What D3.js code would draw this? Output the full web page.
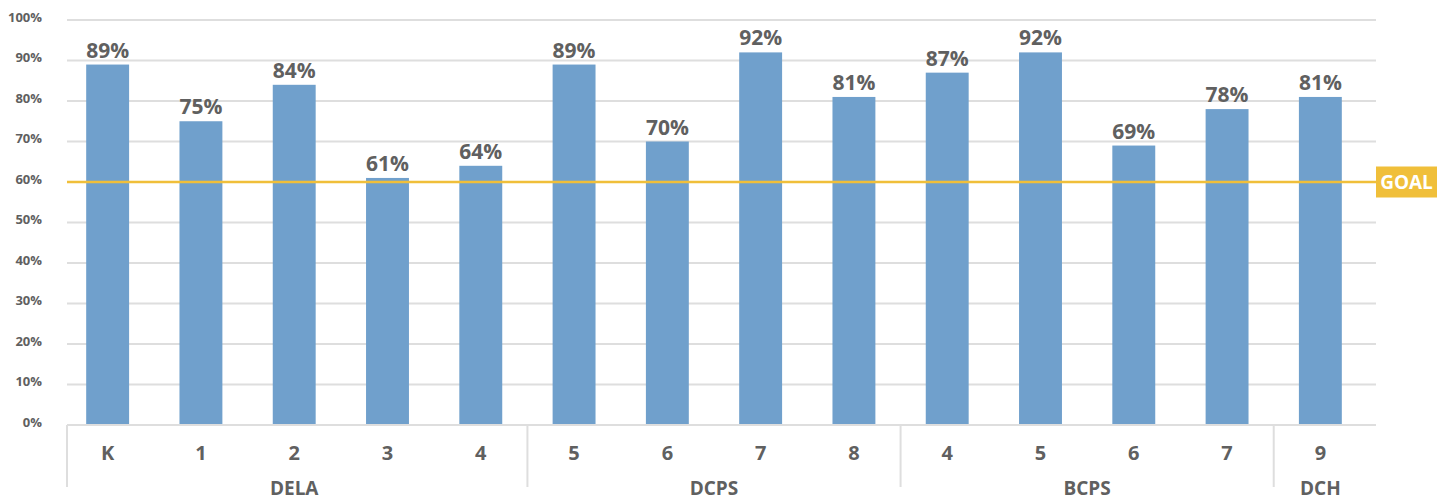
<!DOCTYPE html>
<html>
<head>
<meta charset="utf-8">
<script src="https://cdn.jsdelivr.net/npm/d3@7"></script>
<style>
  html, body { margin: 0; padding: 0; background: #ffffff; }
  svg { display: block; font-family: "Open Sans", "DejaVu Sans", sans-serif; }
</style>
</head>
<body>
<svg id="chart" width="1449" height="501"></svg>
<script>
// Grade levels, the school group each belongs to, and the percentage per grade
const grades = ["K", "1", "2", "3", "4", "5", "6", "7", "8", "4", "5", "6", "7", "9"];
const groups = ["DELA", "DELA", "DELA", "DELA", "DELA", "DCPS", "DCPS", "DCPS", "DCPS", "BCPS", "BCPS", "BCPS", "BCPS", "DCH"];
const values = [89, 75, 84, 61, 64, 89, 70, 92, 81, 87, 92, 69, 78, 81];
const yTicks = [0, 10, 20, 30, 40, 50, 60, 70, 80, 90, 100];
const goal = 60;
const goalLabel = "GOAL";

const svg = d3.select("#chart");
const textColor = "#606060";
const gridColor = "#dedede";
const barColor = "#70a0cc";
const goalColor = "#f0bf3a";

const gridLeft = 67, gridRight = 1376;
const keys = grades.map((g, i) => i);

const x = d3.scaleBand()
  .domain(keys)
  .range([61, 1367])
  .paddingInner(0.54)
  .paddingOuter(0.27);
const gap = x.step() - x.bandwidth();

const y = d3.scaleLinear().domain([0, 100]).range([425, 20]);

// Horizontal gridlines
svg.append("g")
  .selectAll("line")
  .data(yTicks)
  .join("line")
  .attr("x1", gridLeft)
  .attr("x2", gridRight)
  .attr("y1", d => y(d))
  .attr("y2", d => y(d))
  .attr("stroke", gridColor)
  .attr("stroke-width", 2);

// Y-axis labels
const yAxis = d3.axisLeft(y)
  .tickValues(yTicks)
  .tickFormat(d => d + "%")
  .tickSize(0)
  .tickPadding(0);
const yg = svg.append("g").attr("transform", "translate(42,-3)").call(yAxis);
yg.select(".domain").remove();
yg.selectAll("text")
  .attr("fill", textColor)
  .style("font-size", "13px")
  .style("font-weight", "700")
  .style("font-family", "'Open Sans', sans-serif");

// Bars
svg.append("g")
  .selectAll("rect")
  .data(values)
  .join("rect")
  .attr("x", (d, i) => x(i))
  .attr("width", x.bandwidth())
  .attr("y", d => y(d))
  .attr("height", d => y(0) - y(d))
  .attr("fill", barColor);

// Value labels
svg.append("g")
  .selectAll("text")
  .data(values)
  .join("text")
  .attr("x", (d, i) => x(i) + x.bandwidth() / 2)
  .attr("y", d => y(d) - 7)
  .attr("text-anchor", "middle")
  .attr("fill", textColor)
  .style("font-size", "21px")
  .style("font-weight", "700")
  .text(d => d + "%");

// Goal line and tag
svg.append("line")
  .attr("x1", gridLeft)
  .attr("x2", gridRight)
  .attr("y1", y(goal))
  .attr("y2", y(goal))
  .attr("stroke", goalColor)
  .attr("stroke-width", 2.5);
svg.append("rect")
  .attr("x", gridRight)
  .attr("y", y(goal) - 15.5)
  .attr("width", 61)
  .attr("height", 31)
  .attr("fill", goalColor);
svg.append("text")
  .attr("x", gridRight + 30.5)
  .attr("y", y(goal) + 7)
  .attr("text-anchor", "middle")
  .attr("fill", "#ffffff")
  .style("font-size", "19px")
  .style("font-weight", "700")
  .text(goalLabel);

// Category axis: baseline, grade labels, group separators and group names
svg.append("line")
  .attr("x1", gridLeft)
  .attr("x2", gridRight)
  .attr("y1", y(0))
  .attr("y2", y(0))
  .attr("stroke", gridColor)
  .attr("stroke-width", 2);

svg.append("g")
  .selectAll("text")
  .data(grades)
  .join("text")
  .attr("x", (d, i) => x(i) + x.bandwidth() / 2)
  .attr("y", 460)
  .attr("text-anchor", "middle")
  .attr("fill", textColor)
  .style("font-size", "20px")
  .style("font-weight", "700")
  .text(d => d);

// Group spans computed from the group list
const spans = [];
groups.forEach((g, i) => {
  const last = spans[spans.length - 1];
  if (last && last.name === g) last.end = i;
  else spans.push({ name: g, start: i, end: i });
});

const sepPos = (s, k) => k === 0 ? gridLeft : x(s.start) - gap / 2;
svg.append("g")
  .selectAll("line")
  .data(spans)
  .join("line")
  .attr("x1", sepPos)
  .attr("x2", sepPos)
  .attr("y1", y(0))
  .attr("y2", 487)
  .attr("stroke", gridColor)
  .attr("stroke-width", 2);

svg.append("g")
  .selectAll("text")
  .data(spans)
  .join("text")
  .attr("x", s => (x(s.start) + x(s.end) + x.bandwidth()) / 2)
  .attr("y", 495)
  .attr("text-anchor", "middle")
  .attr("fill", textColor)
  .style("font-size", "19px")
  .style("font-weight", "700")
  .text(s => s.name);
</script>
</body>
</html>
